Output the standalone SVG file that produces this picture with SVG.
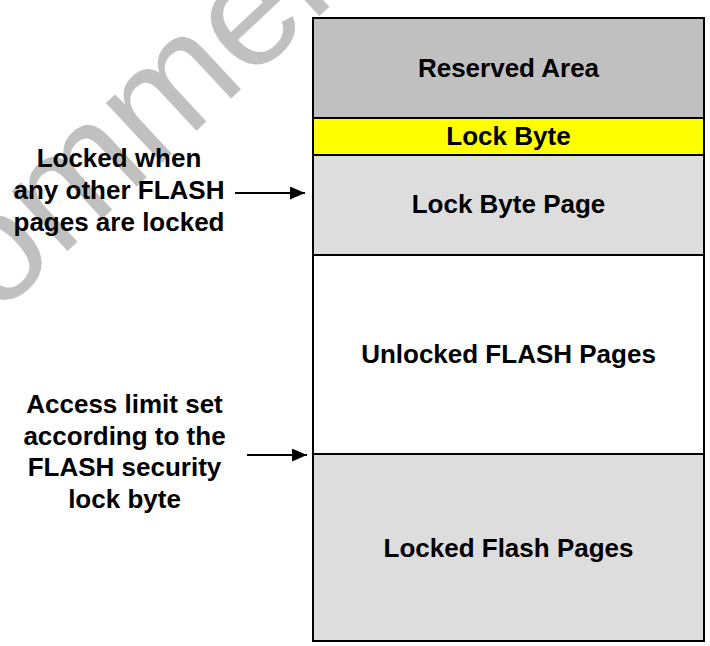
<svg xmlns="http://www.w3.org/2000/svg" width="710" height="646" viewBox="0 0 710 646">
<style>
.t{font-family:"Liberation Sans",Arial,sans-serif;font-weight:bold;font-size:26px;fill:#000;text-anchor:middle}
.sec{stroke:#000;stroke-width:2}
.wm{font-family:"Liberation Sans",Arial,sans-serif;font-size:155px;fill:#c0c0c0}
</style>
<defs>
<marker id="ah" markerWidth="15" markerHeight="13" refX="15" refY="6.5" orient="auto" markerUnits="userSpaceOnUse">
<path d="M0,0 L15,6.5 L0,13 Z" fill="#000"/>
</marker>
</defs>
<rect width="710" height="646" fill="#fff"/>
<text class="wm" transform="translate(-205,505) rotate(-43)">Recommended</text>
<g id="reserved"><rect class="sec" x="313" y="18" width="391" height="100" fill="#c0c0c0"/><text class="t" x="508.5" y="77">Reserved Area</text></g>
<g id="lockbyte"><rect class="sec" x="313" y="118" width="391" height="37" fill="#ffff00"/><text class="t" x="508.5" y="145">Lock Byte</text></g>
<g id="lockbytepage"><rect class="sec" x="313" y="155" width="391" height="100" fill="#dddddd"/><text class="t" x="508.5" y="213">Lock Byte Page</text></g>
<g id="unlocked"><rect class="sec" x="313" y="255" width="391" height="199" fill="#ffffff"/><text class="t" x="508.5" y="363">Unlocked FLASH Pages</text></g>
<g id="locked"><rect class="sec" x="313" y="454" width="391" height="187" fill="#dddddd"/><text class="t" x="508.5" y="557">Locked Flash Pages</text></g>
<g id="label1"><text class="t" x="119" y="167">Locked when</text><text class="t" x="119" y="199">any other FLASH</text><text class="t" x="119" y="231">pages are locked</text></g>
<g id="label2"><text class="t" x="124.5" y="413">Access limit set</text><text class="t" x="124.5" y="444.5">according to the</text><text class="t" x="124.5" y="476">FLASH security</text><text class="t" x="124.5" y="507.5">lock byte</text></g>
<g id="connectors">
<line x1="235" y1="193" x2="305" y2="193" stroke="#000" stroke-width="2" marker-end="url(#ah)"/>
<line x1="247" y1="455" x2="307" y2="455" stroke="#000" stroke-width="2" marker-end="url(#ah)"/>
</g>
</svg>
